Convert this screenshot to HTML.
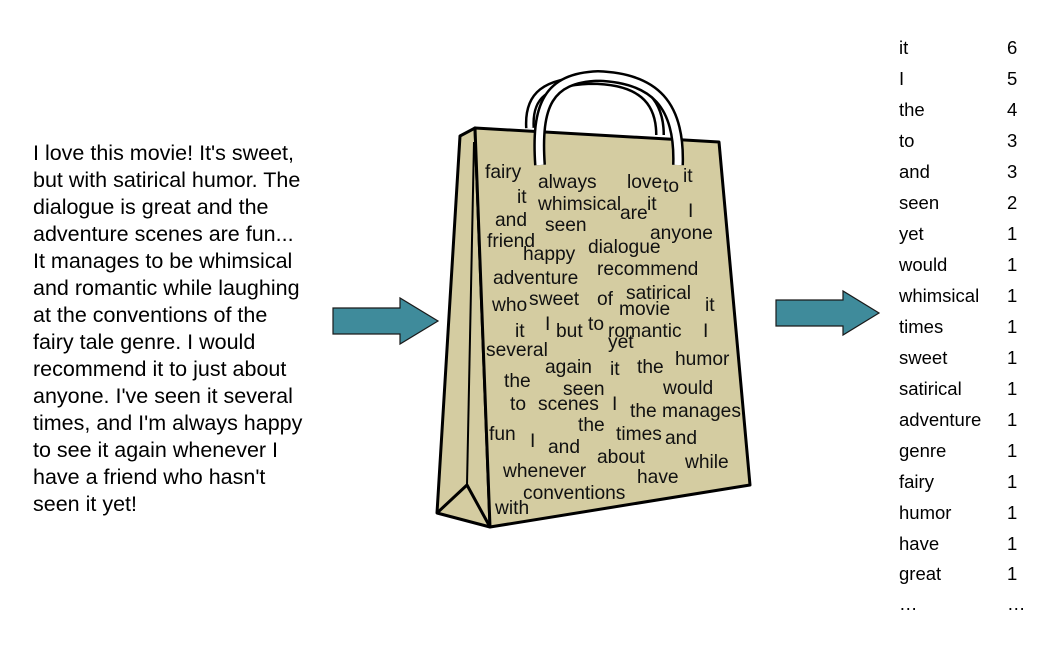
<!DOCTYPE html>
<html><head><meta charset="utf-8"><style>
html,body{margin:0;padding:0;background:#fff;}
svg{display:block;font-family:"Liberation Sans",Arial,sans-serif;}
</style></head><body>
<svg width="1060" height="646" viewBox="0 0 1060 646" xmlns="http://www.w3.org/2000/svg">
<g font-size="21.5" fill="#000">
<text x="33" y="160">I love this movie! It's sweet,</text>
<text x="33" y="187">but with satirical humor. The</text>
<text x="33" y="214">dialogue is great and the</text>
<text x="33" y="241">adventure scenes are fun...</text>
<text x="33" y="268">It manages to be whimsical</text>
<text x="33" y="295">and romantic while laughing</text>
<text x="33" y="322">at the conventions of the</text>
<text x="33" y="349">fairy tale genre. I would</text>
<text x="33" y="376">recommend it to just about</text>
<text x="33" y="403">anyone. I've seen it several</text>
<text x="33" y="430">times, and I'm always happy</text>
<text x="33" y="457">to see it again whenever I</text>
<text x="33" y="484">have a friend who hasn't</text>
<text x="33" y="511">seen it yet!</text>
</g>
<path d="M333,308 H400 V298 L438,321 L400,344 V334 H333 Z" fill="#3f8b9b" stroke="#1a1a1a" stroke-width="1.2"/>
<path d="M776,300 H843 V291 L879,313 L843,335 V326 H776 Z" fill="#3f8b9b" stroke="#1a1a1a" stroke-width="1.2"/>
<g stroke="#000" stroke-width="3" stroke-linejoin="round">
<path d="M530,128 C528,95 545,82 590,80 C640,80 660,100 660,135" fill="none" stroke="#000" stroke-width="10"/>
<path d="M530,128 C528,95 545,82 590,80 C640,80 660,100 660,135" fill="none" stroke="#fff" stroke-width="5"/>
<polygon points="460,136 475,128 490,527 437,513" fill="#d4cca1"/>
<polygon points="475,128 719,142 750,485 490,527" fill="#d4cca1"/>
<polyline points="437,513 467,485 490,527" fill="none"/>
<line x1="474" y1="142" x2="467" y2="485" stroke-width="2"/>
<path d="M540,165 C536,105 548,78 598,76 C655,78 680,105 678,165" fill="none" stroke="#000" stroke-width="12"/>
<path d="M540,165 C536,105 548,78 598,76 C655,78 680,105 678,165" fill="none" stroke="#fff" stroke-width="7"/>
</g>
<g font-size="19.2" fill="#111">
<text x="485" y="178">fairy</text>
<text x="538" y="188">always</text>
<text x="627" y="188">love</text>
<text x="663" y="192">to</text>
<text x="683" y="182">it</text>
<text x="517" y="203">it</text>
<text x="538" y="210">whimsical</text>
<text x="620" y="219">are</text>
<text x="647" y="210">it</text>
<text x="688" y="217">I</text>
<text x="495" y="226">and</text>
<text x="545" y="231">seen</text>
<text x="650" y="239">anyone</text>
<text x="487" y="247">friend</text>
<text x="523" y="260">happy</text>
<text x="588" y="253">dialogue</text>
<text x="597" y="275">recommend</text>
<text x="493" y="284">adventure</text>
<text x="492" y="311">who</text>
<text x="529" y="305">sweet</text>
<text x="597" y="305">of</text>
<text x="626" y="299">satirical</text>
<text x="619" y="315">movie</text>
<text x="705" y="311">it</text>
<text x="515" y="337">it</text>
<text x="545" y="330">I</text>
<text x="556" y="337">but</text>
<text x="588" y="330">to</text>
<text x="608" y="337">romantic</text>
<text x="703" y="337">I</text>
<text x="608" y="348">yet</text>
<text x="486" y="356">several</text>
<text x="675" y="365">humor</text>
<text x="545" y="373">again</text>
<text x="610" y="375">it</text>
<text x="637" y="373">the</text>
<text x="504" y="387">the</text>
<text x="663" y="394">would</text>
<text x="563" y="395">seen</text>
<text x="510" y="410">to</text>
<text x="538" y="410">scenes</text>
<text x="612" y="410">I</text>
<text x="630" y="417">the</text>
<text x="662" y="417">manages</text>
<text x="578" y="431">the</text>
<text x="489" y="440">fun</text>
<text x="616" y="440">times</text>
<text x="665" y="444">and</text>
<text x="530" y="447">I</text>
<text x="548" y="453">and</text>
<text x="597" y="463">about</text>
<text x="685" y="468">while</text>
<text x="503" y="477">whenever</text>
<text x="637" y="483">have</text>
<text x="523" y="499">conventions</text>
<text x="495" y="514">with</text>
</g>
<g font-size="18.5" fill="#000">
<text x="899" y="54">it</text><text x="1007" y="54">6</text>
<text x="899" y="85">I</text><text x="1007" y="85">5</text>
<text x="899" y="116">the</text><text x="1007" y="116">4</text>
<text x="899" y="147">to</text><text x="1007" y="147">3</text>
<text x="899" y="178">and</text><text x="1007" y="178">3</text>
<text x="899" y="209">seen</text><text x="1007" y="209">2</text>
<text x="899" y="240">yet</text><text x="1007" y="240">1</text>
<text x="899" y="271">would</text><text x="1007" y="271">1</text>
<text x="899" y="302">whimsical</text><text x="1007" y="302">1</text>
<text x="899" y="333">times</text><text x="1007" y="333">1</text>
<text x="899" y="364">sweet</text><text x="1007" y="364">1</text>
<text x="899" y="395">satirical</text><text x="1007" y="395">1</text>
<text x="899" y="426">adventure</text><text x="1007" y="426">1</text>
<text x="899" y="457">genre</text><text x="1007" y="457">1</text>
<text x="899" y="488">fairy</text><text x="1007" y="488">1</text>
<text x="899" y="519">humor</text><text x="1007" y="519">1</text>
<text x="899" y="550">have</text><text x="1007" y="550">1</text>
<text x="899" y="580">great</text><text x="1007" y="580">1</text>
<text x="899" y="610">…</text><text x="1007" y="610">…</text>
</g>
</svg>
</body></html>
